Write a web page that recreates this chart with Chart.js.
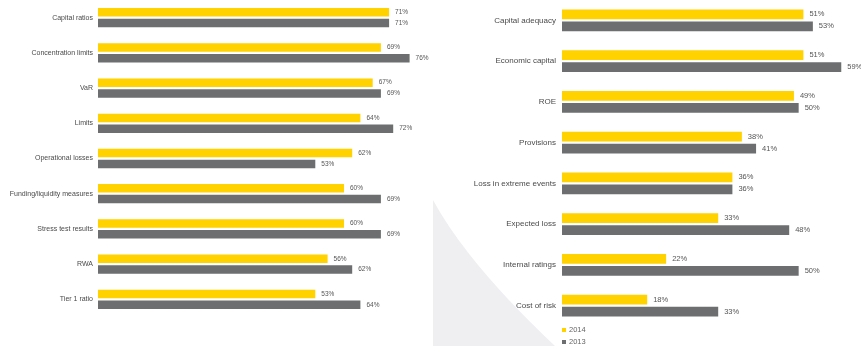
<!DOCTYPE html>
<html>
<head>
<meta charset="utf-8">
<script src="https://cdn.jsdelivr.net/npm/chart.js@4/dist/chart.umd.min.js"></script>
<style>
  html, body { margin: 0; padding: 0; background: #fff; }
  #pagina { position: relative; width: 861px; height: 346px; overflow: hidden; }
  #fundo { position: absolute; left: 0; top: 0; }
  #graficoEsq { position: absolute; left: 0; top: 0; }
  #graficoDir { position: absolute; left: 430px; top: 0; }
</style>
</head>
<body>
<div id="pagina">
  <svg id="fundo" width="861" height="346">
    <path d="M433 200 Q467 263 555 346 L433 346 Z" fill="#efeff2"></path>
  </svg>
  <canvas id="graficoEsq" width="430" height="346"></canvas>
  <canvas id="graficoDir" width="431" height="346"></canvas>
</div>

<script>
const anos = ["2014", "2013"];
const cores = ["#ffd200", "#6d6e70"];

const metricasEsq = [
  "Capital ratios",
  "Concentration limits",
  "VaR",
  "Limits",
  "Operational losses",
  "Funding/liquidity measures",
  "Stress test results",
  "RWA",
  "Tier 1 ratio",
];
const esq2014 = [71, 69, 67, 64, 62, 60, 60, 56, 53];
const esq2013 = [71, 76, 69, 72, 53, 69, 69, 62, 64];

const metricasDir = [
  "Capital adequacy",
  "Economic capital",
  "ROE",
  "Provisions",
  "Loss in extreme events",
  "Expected loss",
  "Internal ratings",
  "Cost of risk",
];
const dir2014 = [51, 51, 49, 38, 36, 33, 22, 18];
const dir2013 = [53, 59, 50, 41, 36, 48, 50, 33];

const fonte = "'Liberation Sans', Arial, sans-serif";

// ========================
// RÓTULOS DE VALOR
// ========================

function pluginValores(tamanho) {
  return {
    id: "valores",
    afterDatasetsDraw(chart) {
      const ctx = chart.ctx;
      ctx.save();
      ctx.font = tamanho + "px " + fonte;
      ctx.fillStyle = "#555";
      ctx.textAlign = "left";
      ctx.textBaseline = "middle";
      chart.data.datasets.forEach((ds, i) => {
        chart.getDatasetMeta(i).data.forEach((barra, j) => {
          ctx.fillText(ds.data[j] + "%", barra.x + 6, barra.y);
        });
      });
      ctx.restore();
    },
  };
}

// ========================
// LEGENDA
// ========================

const pluginLegenda = {
  id: "legenda",
  afterDraw(chart) {
    const ctx = chart.ctx;
    const x = chart.chartArea.left;
    ctx.save();
    ctx.font = "7.5px " + fonte;
    ctx.textBaseline = "middle";
    chart.data.datasets.forEach((ds, i) => {
      const y = 330 + i * 12;
      ctx.fillStyle = ds.backgroundColor;
      ctx.fillRect(x, y - 2, 4, 4);
      ctx.fillStyle = "#666";
      ctx.fillText(ds.label, x + 7, y);
    });
    ctx.restore();
  },
};

// ========================
// GRÁFICOS
// ========================

function criarGrafico(id, labels, serie2014, serie2013, cfg) {
  new Chart(document.getElementById(id), {
    type: "bar",
    data: {
      labels: labels,
      datasets: [
        { label: anos[0], data: serie2014, backgroundColor: cores[0] },
        { label: anos[1], data: serie2013, backgroundColor: cores[1] },
      ],
    },
    options: {
      indexAxis: "y",
      responsive: false,
      animation: false,
      categoryPercentage: cfg.catPct,
      barPercentage: cfg.barPct,
      layout: { padding: cfg.padding },
      plugins: {
        legend: { display: false },
        tooltip: { enabled: false },
      },
      scales: {
        x: { min: 0, max: cfg.max, display: false },
        y: {
          grid: { display: false, drawTicks: false },
          border: { display: false },
          ticks: {
            color: "#4a4a4a",
            font: { family: fonte, size: cfg.fonteRotulo },
            padding: cfg.recuo,
          },
          afterFit: (s) => {
            s.width = cfg.eixo;
            // sem folga extra no topo/base do eixo
            s.paddingTop = 0;
            s.paddingBottom = 0;
          },
        },
      },
    },
    plugins: cfg.plugins,
  });
}

criarGrafico("graficoEsq", metricasEsq, esq2014, esq2013, {
  max: 80,
  eixo: 98,
  recuo: 5,
  fonteRotulo: 7,
  catPct: 0.612,
  barPct: 0.787,
  padding: { top: 0, right: 4, bottom: 29, left: 0 },
  plugins: [pluginValores(6.5)],
});

criarGrafico("graficoDir", metricasDir, dir2014, dir2013, {
  max: 60,
  eixo: 132,
  recuo: 6,
  fonteRotulo: 8,
  catPct: 0.59,
  barPct: 0.817,
  padding: { top: 0, right: 15, bottom: 20, left: 0 },
  plugins: [pluginValores(7.5), pluginLegenda],
});
</script>
</body>
</html>
